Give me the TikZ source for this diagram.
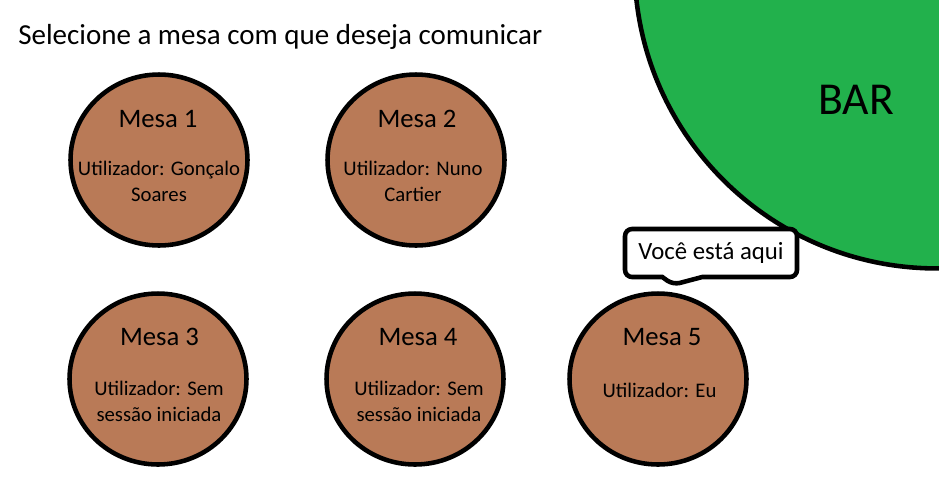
\documentclass[tikz,border=0pt]{standalone}
\usepackage{fontspec}
\setmainfont{Carlito}
\usetikzlibrary{shapes.geometric,shapes.callouts,calc}

\definecolor{mesacor}{RGB}{185,122,87}
\definecolor{barcor}{RGB}{34,177,76}

\begin{document}
\begin{tikzpicture}[x=0.02cm, y=-0.02cm,
  mesa/.style={draw, ellipse, line width=2.6pt, fill=mesacor, minimum width=3.54cm, minimum height=3.42cm, inner sep=0pt},
  titulo/.style={font=\fontsize{15.2}{18}\selectfont, inner sep=0pt},
  nota/.style={align=center, font=\fontsize{11.8}{14.8}\selectfont},
  barra/.style={draw, circle, line width=2.6pt, fill=barcor, minimum size=12.1cm, inner sep=0pt},
  bolha/.style={draw, rectangle callout, line width=2.6pt, rounded corners=4pt, fill=white, minimum width=3.44cm, minimum height=0.96cm, callout pointer width=0.8cm, font=\fontsize{14.1}{17}\selectfont}
]
\useasboundingbox (0,0) rectangle (939,495);

% bar no canto
\begin{scope}
  \clip (0,0) rectangle (939,495);
  \node[barra] (bar) at (937,-34) {};
\end{scope}
\node[font=\fontsize{26}{30}\selectfont] (barlabel) at (856,100) {BAR};

\node[titulo, anchor=base west, font=\fontsize{16.5}{20}\selectfont] (cabecalho) at (18,44) {Selecione a mesa com que deseja comunicar};

% mesas
\node[mesa] (m1) at (159,160) {};
\node[mesa] (m2) at (416,160) {};
\node[mesa] (m3) at (158,379) {};
\node[mesa] (m4) at (415,379) {};
\node[mesa] (m5) at (658,379) {};

\node[titulo, anchor=base] (t1) at (158,127) {Mesa 1};
\node[nota] (u1) at (159,181) {Utilizador: Gonçalo\\Soares};
\node[titulo, anchor=base] (t2) at (417,127) {Mesa 2};
\node[nota] (u2) at (413,181) {Utilizador: Nuno\\Cartier};
\node[titulo, anchor=base] (t3) at (159.5,345) {Mesa 3};
\node[nota] (u3) at (159,401) {Utilizador: Sem\\sessão iniciada};
\node[titulo, anchor=base] (t4) at (418,345) {Mesa 4};
\node[nota] (u4) at (419,401) {Utilizador: Sem\\sessão iniciada};
\node[titulo, anchor=base] (t5) at (662,345) {Mesa 5};
\node[nota] (u5) at (659.5,390) {Utilizador: Eu};

% balao
\node[bolha, callout absolute pointer={($(m5.north)+(15,-6.5)$)}] (aqui) at (711,253) {Você está aqui};

\end{tikzpicture}
\end{document}
